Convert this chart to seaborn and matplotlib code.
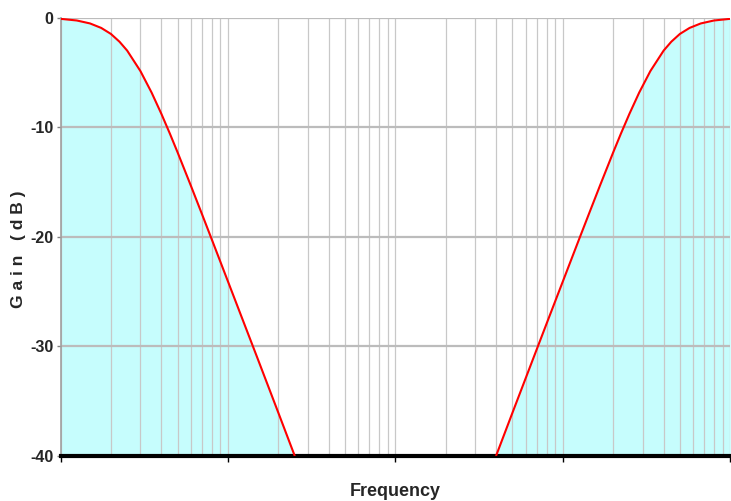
import numpy as np
import pandas as pd
import matplotlib
matplotlib.use("Agg")
import matplotlib.pyplot as plt
import seaborn as sns

# low-pass branch (frequency, gain in dB)
lp_freq = [1, 1.25, 1.5, 1.75, 2, 2.25, 2.5, 3, 3.5, 4, 4.5, 5, 6, 7, 8, 10, 12, 15, 20, 25]
lp_gain = [-0.11, -0.26, -0.53, -0.94, -1.49, -2.2, -3.01, -4.88, -6.85, -8.78, -10.6,
           -12.3, -15.34, -17.96, -20.25, -24.1, -27.25, -31.1, -36.1, -40.0]

# high-pass branch
hp_freq = [400, 500, 667, 833, 1000, 1250, 1429, 1667, 2000, 2222, 2500, 2857, 3333,
           4000, 4444, 5000, 5714, 6667, 8000, 10000]
hp_gain = [-40.0, -36.1, -31.1, -27.25, -24.1, -20.25, -17.96, -15.34, -12.3, -10.6,
           -8.78, -6.85, -4.88, -3.01, -2.2, -1.49, -0.94, -0.53, -0.26, -0.11]

y_ticks = [0, -10, -20, -30, -40]

sns.set_style("white")
plt.rcParams['font.family'] = ['Liberation Sans', 'DejaVu Sans']

fig = plt.figure(figsize=(7.31, 5.01), dpi=100)
ax = fig.add_axes([0.0828, 0.0908, 0.9162, 0.874])

lp = pd.DataFrame({'freq': lp_freq, 'gain': lp_gain})
hp = pd.DataFrame({'freq': hp_freq, 'gain': hp_gain})

ax.set_xscale('log')
ax.set_xlim(1, 10000)
ax.set_ylim(-40, 0)

# grid (drawn over the cyan fill)
ax.xaxis.grid(True, which='both', color='#c8c8c8', linewidth=0.9)
ax.yaxis.grid(True, which='major', color='#bcbcbc', linewidth=1.6)
ax.set_axisbelow(True)

ax.fill_between(lp['freq'], lp['gain'], -40, color='#c6fdfd', zorder=0.2, linewidth=0)
ax.fill_between(hp['freq'], hp['gain'], -40, color='#c6fdfd', zorder=0.2, linewidth=0)

sns.lineplot(data=lp, x='freq', y='gain', ax=ax, color='#ff0000', linewidth=1.5, zorder=3)
sns.lineplot(data=hp, x='freq', y='gain', ax=ax, color='#ff0000', linewidth=1.5, zorder=3)

ax.set_yticks(y_ticks)
ax.set_yticklabels([str(t) for t in y_ticks], fontsize=11.5, fontweight='bold')
ax.set_xticks([1, 10, 100, 1000, 10000])
ax.set_xticklabels([])
ax.xaxis.set_minor_formatter(matplotlib.ticker.NullFormatter())
ax.tick_params(axis='x', which='major', direction='out', length=4, width=1, color='black', bottom=True)
ax.tick_params(axis='x', which='minor', length=0)
ax.tick_params(axis='y', direction='out', length=3, width=1, color='#808080', left=True, pad=2)

for s in ['top', 'right']:
    ax.spines[s].set_visible(False)
ax.spines['left'].set_color('#a0a0a0')
ax.spines['left'].set_linewidth(1.2)
ax.spines['bottom'].set_color('black')
ax.spines['bottom'].set_linewidth(3)

ax.set_xlabel('Frequency', fontsize=13, fontweight='bold', labelpad=12)
ax.set_ylabel('G a i n   ( d B )', fontsize=12.5, fontweight='bold')
ax.yaxis.set_label_coords(-0.052, 0.47)

fig.savefig('out.png', dpi=100)
